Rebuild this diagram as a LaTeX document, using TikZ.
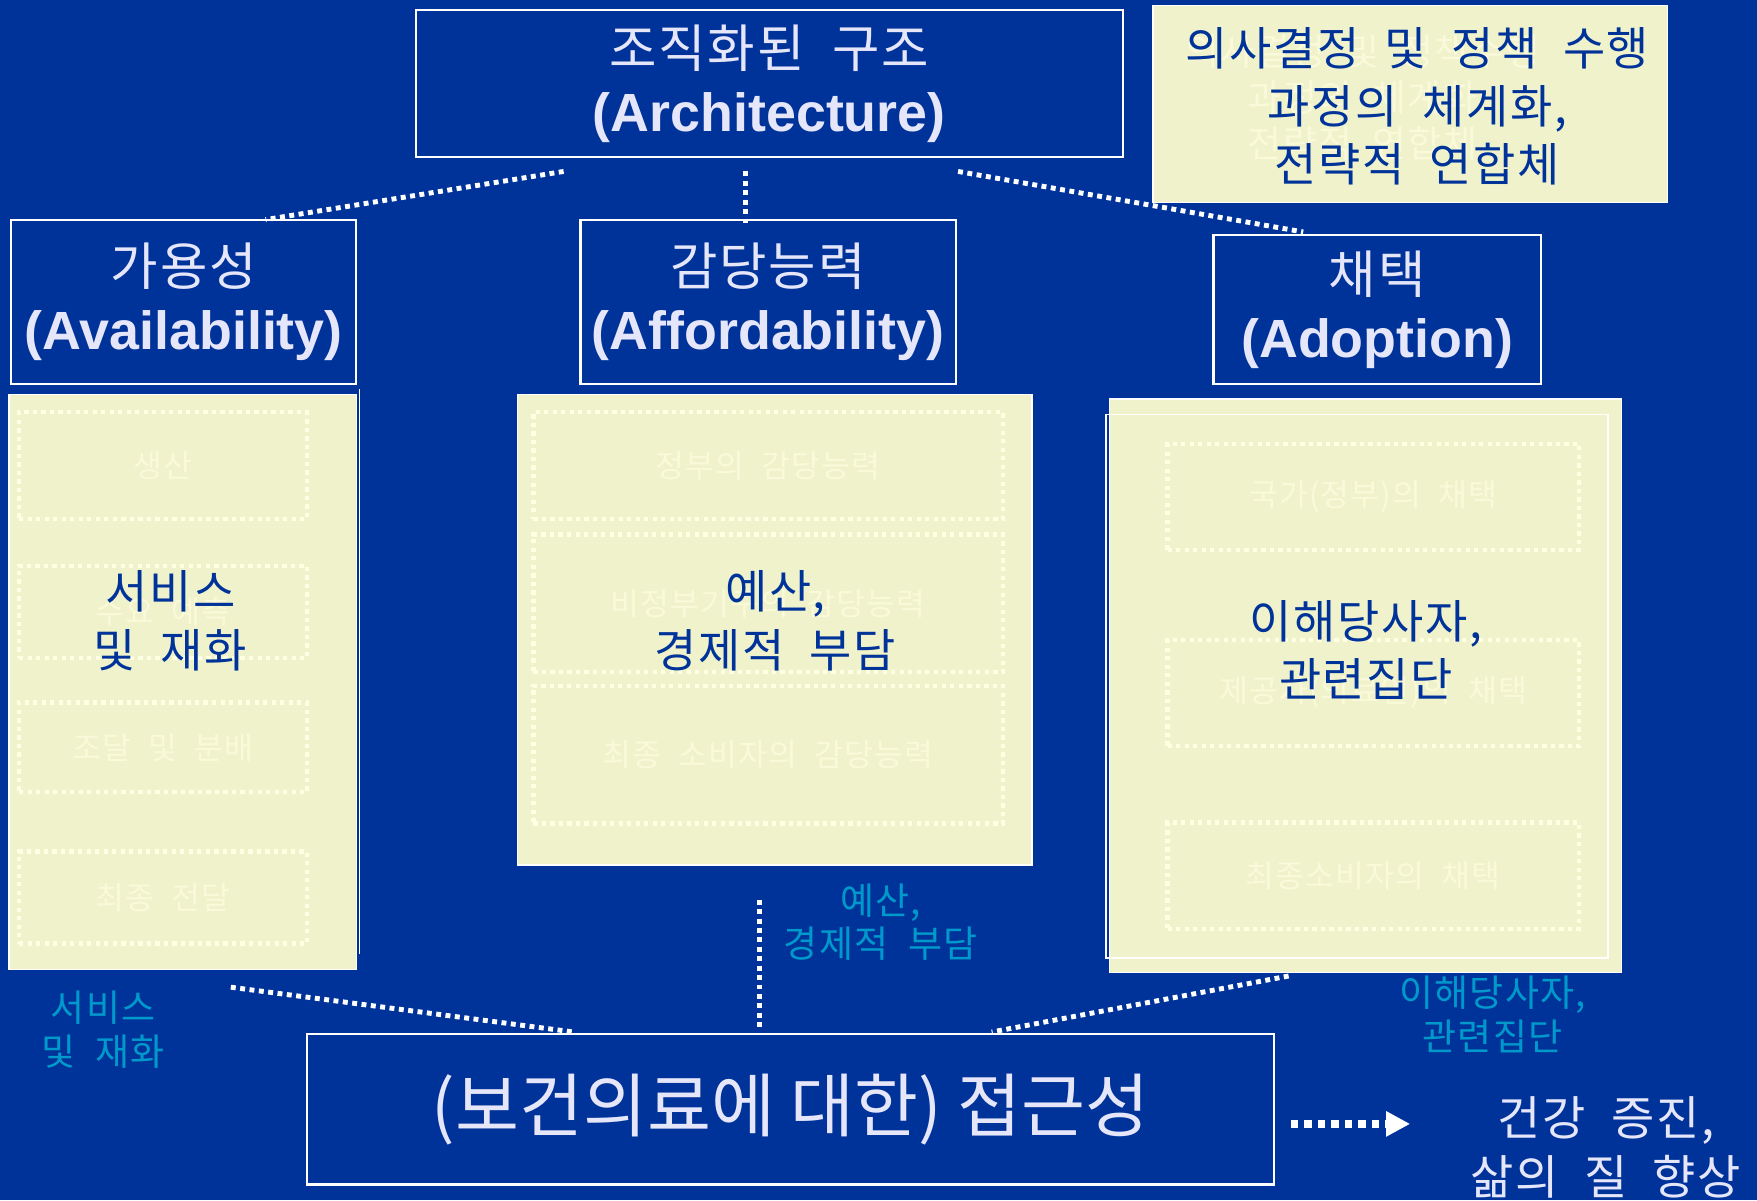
\documentclass[tikz,border=0pt]{standalone}
\usepackage{fontspec}
\setmainfont{Noto Sans CJK KR}[WordSpace=2.1, LetterSpace=3.5]
\newfontfamily\kortight{Noto Sans CJK KR}
\newfontfamily\latf{Liberation Sans}
\usetikzlibrary{arrows.meta}
\definecolor{bg}{RGB}{0,51,153}
\definecolor{hdtext}{RGB}{230,230,250}
\definecolor{pale}{RGB}{239,242,202}
\definecolor{ghost}{RGB}{250,250,218}
\definecolor{dotc}{RGB}{255,255,228}
\definecolor{cyanlbl}{RGB}{0,153,204}
\newcommand{\fsz}[2]{\fontsize{#1}{#2}\selectfont}
\tikzset{
  hbox/.style={draw=white, line width=1pt, fill=bg, text=hdtext, align=center, inner sep=0pt, font=\fsz{23pt}{28.5pt}},
  ybox/.style={draw=white, line width=0.6pt, fill=pale, inner sep=0pt},
  yedge/.style={draw=white, line width=0.6pt},
  subbox/.style={draw=dotc, line width=1.9pt, dash pattern=on 1.9pt off 1.9pt, text=ghost, inner sep=0pt, font=\fsz{14pt}{17pt}},
  maintxt/.style={text=bg, align=center, font=\fsz{20.5pt}{26pt}},
  ghosttxt/.style={text=ghost, align=center, font=\fsz{16.5pt}{20.5pt}},
  cylbl/.style={text=cyanlbl, align=center, font=\fsz{16.5pt}{19.5pt}},
  restxt/.style={text=hdtext, align=center, font=\fsz{21pt}{26pt}},
  dotline/.style={draw=white, line width=2.2pt, dash pattern=on 2.2pt off 2pt},
  arrline/.style={draw=white, line width=3.4pt, dash pattern=on 3.4pt off 2.6pt},
}
\begin{document}
\begin{tikzpicture}[x=0.5pt,y=-0.5pt]
\useasboundingbox (0,0) rectangle (1568,1071);
\fill[bg] (0,0) rectangle (1568,1071);

% top boxes
\node[hbox, minimum width=315.5pt, minimum height=65.5pt] (arch) at (686.5,74.5)
  {조직화된 구조\\{\latf\bfseries\fontsize{24pt}{28.5pt}\selectfont (Architecture)}};
\node[ybox, minimum width=229.5pt, minimum height=88pt] (dec) at (1258.5,93) {};
\node[ghosttxt] (decghost) at (1216,87) {의사결정 및 정책수행\\과정의 체계화\\전략적 연합체};
\node[maintxt, font=\fsz{20.5pt}{26pt}] (dectxt) at (1265,95) {의사결정 및 정책 수행\\과정의 체계화,\\전략적 연합체};

% dimension boxes
\node[hbox, minimum width=154pt, minimum height=73.5pt] (avail) at (164,269.5)
  {가용성\\{\latf\bfseries\fontsize{24pt}{28.5pt}\selectfont (Availability)}};
\node[hbox, minimum width=167.5pt, minimum height=73.5pt] (afford) at (685.5,269.5)
  {감당능력\\{\latf\bfseries\fontsize{24pt}{28.5pt}\selectfont (Affordability)}};
\node[hbox, minimum width=146pt, minimum height=66.5pt] (adopt) at (1229,276.5)
  {채택\\{\latf\bfseries\fontsize{24pt}{28.5pt}\selectfont (Adoption)}};

% yellow panels
\node[ybox, minimum width=155pt, minimum height=256.5pt] (ylft) at (163,608.5) {};
\draw[yedge] (ylft.north east) ++(1pt,2pt) -- ++(0,-252pt);
\node[ybox, minimum width=229.5pt, minimum height=210pt] (ymid) at (691.5,562) {};
\node[ybox, minimum width=228.5pt, minimum height=256pt] (yrgt) at (1218.5,612) {};
\draw[yedge] (987,370) rectangle (1435,855);

% sub-boxes with faint labels
\node[subbox, minimum width=128.5pt, minimum height=47.5pt] (l1) at (145.5,415.5) {생산};
\node[subbox, minimum width=128.5pt, minimum height=41pt] (l2) at (145.5,546) {수요 예측};
\node[subbox, minimum width=128.5pt, minimum height=40pt] (l3) at (145.5,667) {조달 및 분배};
\node[subbox, minimum width=128.5pt, minimum height=41pt] (l4) at (145.5,801) {최종 전달};
\node[subbox, minimum width=209.5pt, minimum height=47.5pt] (m1) at (685.5,415.5) {정부의 감당능력};
\node[subbox, minimum width=209.5pt, minimum height=61.5pt] (m2) at (685.5,538.5) {비정부기구의 감당능력};
\node[subbox, minimum width=209.5pt, minimum height=61.5pt] (m3) at (685.5,673.5) {최종 소비자의 감당능력};
\node[subbox, minimum width=183.5pt, minimum height=47.5pt] (r1) at (1225.5,443.5) {국가(정부)의 채택};
\node[subbox, minimum width=183.5pt, minimum height=47.5pt] (r2) at (1225.5,618.5) {제공자(의료인)의 채택};
\node[subbox, minimum width=183.5pt, minimum height=47.5pt] (r3) at (1225.5,781.5) {최종소비자의 채택};

% main panel texts
\node[maintxt] (svc) at (152,554) {서비스\\및 재화};
\node[maintxt] (bud) at (692,554) {예산,\\경제적 부담};
\node[maintxt] (stk) at (1219,580) {이해당사자,\\관련집단};

% bottom box
\node[hbox, minimum width=431.5pt, minimum height=67pt, font=\kortight\fsz{31pt}{36pt}] (access) at (705.5,990)
  {(보건의료에 대한) 접근성};

% cyan labels
\node[cylbl] (csvc) at (92,919) {서비스\\및 재화};
\node[cylbl] (cbud) at (786,823) {예산,\\경제적 부담};
\node[cylbl] (cstk) at (1332,905) {이해당사자,\\관련집단};

% result text
\node[restxt] (res) at (1433,1024) {건강 증진,\\삶의 질 향상};

% connector end points
\coordinate (a1) at (503,153);
\coordinate (a2) at (665,153);
\coordinate (a3) at (855,153);
\coordinate (t1) at (237,196);
\coordinate (t2) at (665,203);
\coordinate (t3) at (1163,207);
\coordinate (b1) at (206,881);
\coordinate (b2) at (678,803);
\coordinate (b3) at (1150,871);
\coordinate (e1) at (512,921);
\coordinate (e2) at (678,920);
\coordinate (e3) at (885,921);
\coordinate (s1) at (1152,1003);
\coordinate (s2) at (1258,1003);

\draw[dotline] (a1) -- (t1);
\draw[dotline] (a2) -- (t2);
\draw[dotline] (a3) -- (t3);
\draw[dotline] (b1) -- (e1);
\draw[dotline] (b2) -- (e2);
\draw[dotline] (b3) -- (e3);
\draw[arrline, -{Triangle[length=10.5pt,width=11.5pt,fill=white,line width=0pt]}] (s1) -- (s2);
\end{tikzpicture}
\end{document}
